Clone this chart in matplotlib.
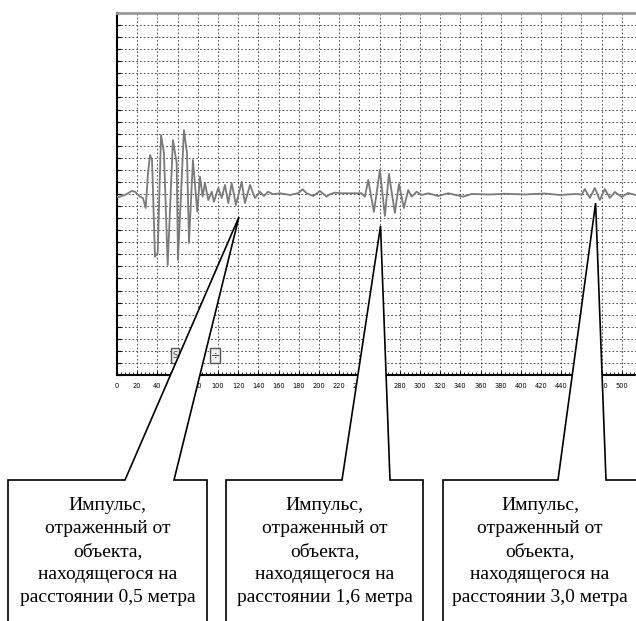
import numpy as np
import matplotlib
matplotlib.use("Agg")
import matplotlib.pyplot as plt
from matplotlib.patches import Polygon, Rectangle

# ---- data ----
signal_x = [0, 3.0, 7.9, 14.6, 17.8, 22.8, 25.7, 28.4, 30.7, 32.7, 34.7, 37.6, 40.3, 43.6, 46.5,
            50.2, 55.4, 59.1, 60.4, 66.3, 69.3, 71.3, 75.2, 79.5, 82.2, 84.8, 87.1, 90.4, 93.8,
            96.0, 100.3, 103.7, 106.9, 110.2, 113.6, 117.8, 123.5, 126.7, 131.7, 136.6, 141.6,
            145.5, 149.5, 154.7, 161.4, 171.3, 179.2, 183.8, 187.8, 194.3, 201.0, 207.6, 210.9,
            215.8, 222.5, 230.7, 242.3, 245.5, 248.8, 254.4, 260.4, 265.3, 269.3, 275.2, 279.2,
            284.1, 288.4, 291.8, 296.7, 301.7, 308.2, 318.1, 328.0, 342.8, 351.2, 369.3, 384.1,
            403.9, 423.7, 438.6, 453.4, 460.4, 463.3, 468.3, 473.2, 478.2, 483.1, 488.1, 493.0,
            499.9, 505.9, 513.8]
signal_y = [-0.25, -0.22, -0.08, 0.25, 0.19, -0.22, -0.33, -1.16, 1.74, 3.23, 2.82, -5.20, -4.89,
            4.89, 3.40, -5.88, 4.47, 2.57, -5.47, 5.30, 3.40, -4.06, 2.82, -1.47, 1.43, -0.22,
            0.91, -0.50, 0.19, -0.64, 0.50, -0.33, 0.75, -0.75, 0.91, -0.91, 1.02, -0.75, 0.75,
            -0.33, 0.19, -0.17, 0.19, -0.02, 0.06, -0.08, 0.06, 0.39, 0.06, -0.17, 0.25, -0.22,
            -0.02, 0.11, 0.06, 0.06, 0.06, -0.22, 1.16, -1.49, 1.99, -1.82, 1.66, -1.57, 0.83,
            -1.16, 0.33, -0.22, 0.19, -0.08, 0.06, -0.17, 0.06, -0.22, 0.0, -0.04, 0.02, -0.04,
            0.04, -0.08, 0.0, -0.04, 0.41, -0.33, 0.50, -0.50, 0.41, -0.33, 0.17, -0.25, 0.08,
            -0.08]

x_ticks = list(range(0, 520, 20))
x_tick_labels = [str(v) for v in x_ticks]

callout_targets = [(120.8, -1.9), (261.0, -2.65), (474.0, -0.75)]
callout_texts = [
    "Импульс,\nотраженный от\nобъекта,\nнаходящегося на\nрасстоянии 0,5 метра",
    "Импульс,\nотраженный от\nобъекта,\nнаходящегося на\nрасстоянии 1,6 метра",
    "Импульс,\nотраженный от\nобъекта,\nнаходящегося на\nрасстоянии 3,0 метра",
]

W, H = 636, 621
fig = plt.figure(figsize=(W / 100, H / 100), dpi=100)
fig.patch.set_facecolor("white")

# main plot axes (pixels: left 117, top 13, bottom 375, right edge of figure)
ax = fig.add_axes([117 / W, 1 - 375 / H, 1 - 117 / W, (375 - 13) / H])
ax.plot(signal_x, signal_y, color="#7a7a7a", lw=1.3, zorder=3)
ax.set_xlim(0, 514)
ax.set_ylim(-15, 15)
ax.set_xticks(x_ticks)
ax.set_xticklabels(x_tick_labels, fontsize=4.8, family="DejaVu Sans")
ax.set_xticks(np.arange(0, 514, 4), minor=True)
ax.set_yticks(np.arange(-15, 16, 1))
ax.set_yticklabels([])
ax.tick_params(axis="x", which="major", direction="in", length=3, width=0.8, pad=6)
ax.tick_params(axis="x", which="minor", direction="in", length=2, width=0.6)
ax.tick_params(axis="y", which="major", direction="in", length=3, width=0.8)
ax.grid(True, which="major", color="#333333", linestyle=(0, (2, 2.5)), lw=0.6)
ax.set_axisbelow(True)
for s in ["left", "bottom"]:
    ax.spines[s].set_color("black")
    ax.spines[s].set_linewidth(1.5)
ax.spines["top"].set_color("#999999")
ax.spines["top"].set_linewidth(2)
ax.spines["right"].set_visible(False)

# overlay axes in pixel coordinates for the callouts
ov = fig.add_axes([0, 0, 1, 1], zorder=10)
ov.set_xlim(0, W)
ov.set_ylim(H, 0)
ov.axis("off")
ov.patch.set_alpha(0)

# small widget boxes (screenshot artifacts)
ov.add_patch(Rectangle((171, 348), 8, 15, facecolor="#f0f0f0", edgecolor="#555555", lw=1))
ov.text(175, 356, "S", fontsize=6, ha="center", va="center", color="#444444")
ov.add_patch(Rectangle((210, 348), 10, 15, facecolor="#f0f0f0", edgecolor="#555555", lw=1))
ov.text(215, 355.5, "÷", fontsize=8, ha="center", va="center", color="#222222")

fig.canvas.draw()
boxes = [
    (8, 207, 125, 174),
    (226, 423, 342, 390),
    (443, 637, 558, 606),
]
for (l, r, b1, b2), tgt, txt in zip(boxes, callout_targets, callout_texts):
    dx, dy = ax.transData.transform(tgt)
    tx, ty = dx, H - dy
    top = 480
    bot = 650
    verts = [(l, bot), (l, top), (b1, top), (tx, ty), (b2, top), (r, top), (r, bot)]
    ov.add_patch(Polygon(verts, closed=True, facecolor="white", edgecolor="black",
                         lw=1.2, joinstyle="miter"))
    cx = (l + r) / 2
    for i, line in enumerate(txt.split("\n")):
        ov.text(cx, 505 + i * 23.1, line, fontsize=14, family="Liberation Serif",
                ha="center", va="center", color="black")

fig.savefig("out.png", dpi=100)
